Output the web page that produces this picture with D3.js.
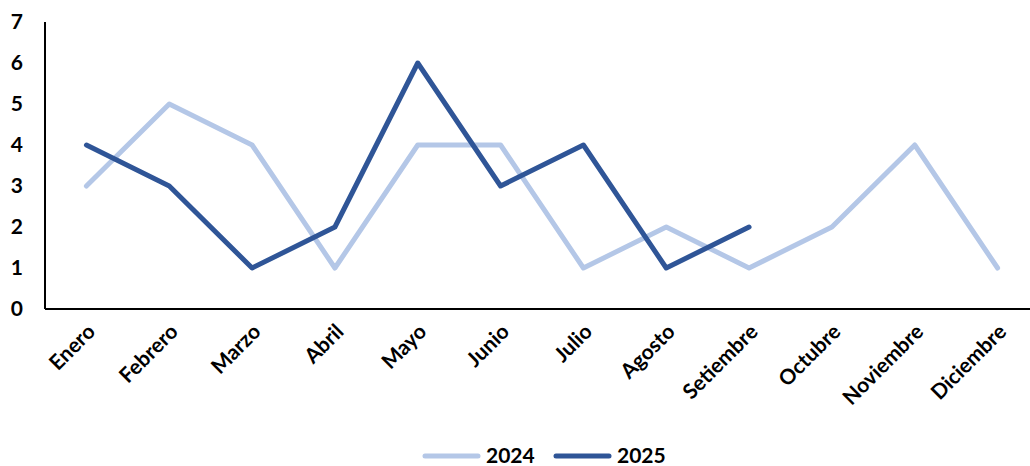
<!DOCTYPE html>
<html>
<head>
<meta charset="utf-8">
<script src="https://cdn.jsdelivr.net/npm/d3@7"></script>
<style>
  body { margin: 0; background: #fff; }
  text { font-family: Lato, "Liberation Sans", Arial, sans-serif; font-weight: bold; fill: #000; }
</style>
</head>
<body>
<div id="chart"></div>
<script>
// data
const months = ["Enero", "Febrero", "Marzo", "Abril", "Mayo", "Junio", "Julio",
  "Agosto", "Setiembre", "Octubre", "Noviembre", "Diciembre"];
const values2024 = [3, 5, 4, 1, 4, 4, 1, 2, 1, 2, 4, 1];
const values2025 = [4, 3, 1, 2, 6, 3, 4, 1, 2];
const yTicks = [0, 1, 2, 3, 4, 5, 6, 7];
const seriesNames = ["2024", "2025"];
const seriesColors = ["#b4c7e7", "#2f5597"];

const width = 1030, height = 466;
const margin = {top: 22, right: -9, bottom: 157, left: 45};
const w = width - margin.left - margin.right,
      h = height - margin.top - margin.bottom;

const svg = d3.select("#chart").append("svg")
  .attr("width", width)
  .attr("height", height);

const g = svg.append("g")
  .attr("transform", "translate(" + margin.left + "," + margin.top + ")");

const x = d3.scaleBand().domain(months).range([0, w]);
const y = d3.scaleLinear().domain([0, 7]).range([h, 0]);

// y axis labels
g.selectAll(".ylab")
  .data(yTicks)
  .enter().append("text")
  .attr("x", -22)
  .attr("y", d => y(d))
  .attr("dy", "0.35em")
  .attr("text-anchor", "end")
  .style("font-size", "21px")
  .text(d => d);

// x labels, rotated
g.selectAll(".xlab")
  .data(months)
  .enter().append("text")
  .attr("text-anchor", "end")
  .style("font-size", "21px")
  .attr("transform", d => "translate(" + (x(d) + x.bandwidth() / 2 + 10) + "," + (h + 24) + ") rotate(-45)")
  .text(d => d);

// lines
const line = d3.line()
  .x((d, i) => x(months[i]) + x.bandwidth() / 2)
  .y(d => y(d));

[values2024, values2025].forEach((vals, k) => {
  g.append("path")
    .datum(vals)
    .attr("fill", "none")
    .attr("stroke", seriesColors[k])
    .attr("stroke-width", 5)
    .attr("stroke-linecap", "round")
    .attr("stroke-linejoin", "round")
    .attr("d", line);
});

// axes lines
g.append("line")
  .attr("x1", 0).attr("x2", 0)
  .attr("y1", 0).attr("y2", h)
  .attr("stroke", "#000").attr("stroke-width", 2);
g.append("line")
  .attr("x1", 0).attr("x2", w)
  .attr("y1", h).attr("y2", h)
  .attr("stroke", "#000").attr("stroke-width", 2);

// legend
const legendX = [425, 556];
const leg = svg.append("g");
seriesNames.forEach((name, k) => {
  leg.append("line")
    .attr("x1", legendX[k]).attr("x2", legendX[k] + 53)
    .attr("y1", 456).attr("y2", 456)
    .attr("stroke", seriesColors[k])
    .attr("stroke-width", 5)
    .attr("stroke-linecap", "round");
  leg.append("text")
    .attr("x", legendX[k] + 61)
    .attr("y", 463)
    .style("font-size", "21px")
    .text(name);
});
</script>
</body>
</html>
